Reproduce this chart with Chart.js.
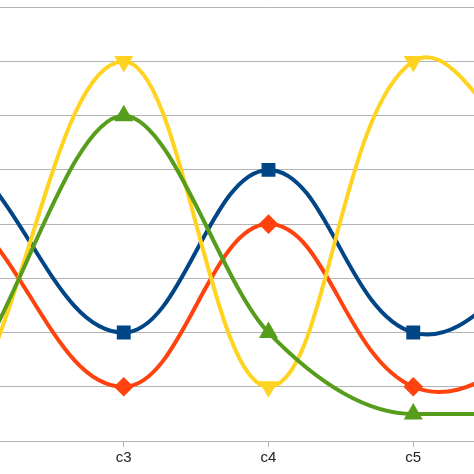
<!DOCTYPE html>
<html><head><script src="https://cdn.jsdelivr.net/npm/chart.js"></script>
<style>html,body{margin:0;padding:0;overflow:hidden;background:#fff;width:474px;height:474px}
#w{position:absolute;left:-32.5px;top:-58px;width:601px;height:532px}</style></head>
<body><div id="w"><canvas id="c"></canvas></div>
<script>
const categories=["c2","c3","c4","c5","c6"];
const blue=[5,2,5,2,3.5];
const red=[4,1,4,1,1.7];
const yellow=[1,7,1,7,4.5];
const green=[1.5,6,2,0.5,0.5];
const mk=(d,c,s)=>({data:d,borderColor:c,backgroundColor:c,borderWidth:4,pointStyle:s,pointRadius:7,tension:0.4,fill:false});
const g=mk(green,'#579d1c','triangle');g.cubicInterpolationMode='monotone';
new Chart(document.getElementById('c'),{type:'line',
data:{labels:categories,datasets:[g,mk(yellow,'#ffd320','triangle'),mk(red,'#ff420e','rectRot'),mk(blue,'#004586','rect')]},
options:{responsive:true,maintainAspectRatio:false,animation:false,layout:{padding:0},
plugins:{legend:{display:false},tooltip:{enabled:false}},
scales:{x:{offset:false,afterFit:s=>{s.height=33},grid:{color:'#b3b3b3',drawOnChartArea:false,tickLength:6},border:{color:'#b3b3b3'},ticks:{color:'#222',font:{size:15,family:'Liberation Sans'},padding:2}},
y:{min:0,max:9,afterFit:s=>{s.width=0},ticks:{display:false,stepSize:1},grid:{color:'#b3b3b3',drawTicks:false},border:{display:false}}}},
plugins:[{id:'tri',beforeDatasetsDraw(ch){ch.getDatasetMeta(1).data.forEach(p=>{p.options.rotation=180;});}}]
});
</script></body></html>
